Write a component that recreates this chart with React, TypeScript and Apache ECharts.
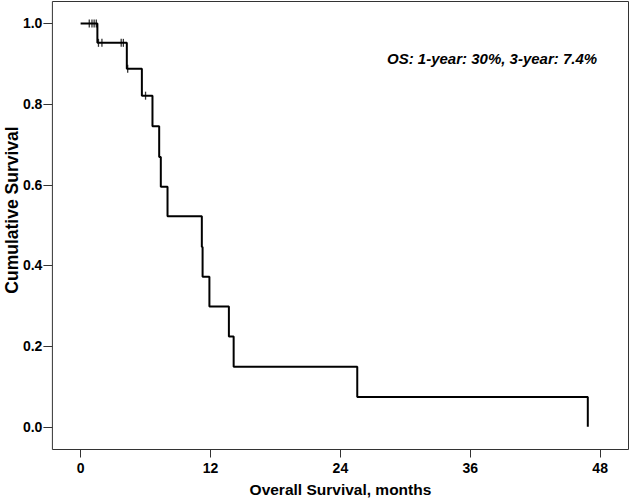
import React, { useEffect, useRef } from "react";
import * as echarts from "echarts";

const eventTimes = [0, 1.55, 4.27, 5.66, 6.64, 7.26, 7.41, 8.03, 11.2, 11.27, 11.9, 13.7, 14.14, 25.56, 46.86];
const survival = [1.0, 0.952, 0.888, 0.821, 0.745, 0.669, 0.595, 0.522, 0.446, 0.372, 0.298, 0.224, 0.149, 0.074, 0.0];
const censorTimes = [0.8, 1.05, 1.25, 1.45, 1.65, 1.97, 3.75, 3.95, 4.35, 6.0];
const censorSurvival = [1.0, 1.0, 1.0, 1.0, 0.952, 0.952, 0.952, 0.952, 0.888, 0.821];
const xTicks = [0, 12, 24, 36, 48];
const yTicks = [0, 0.2, 0.4, 0.6, 0.8, 1.0];
const xTitle = "Overall Survival, months";
const yTitle = "Cumulative Survival";
const annotation = "OS: 1-year: 30%, 3-year: 7.4%";

const FONT = "'Liberation Sans', Arial, sans-serif";

export default function App() {
  const ref = useRef<HTMLDivElement>(null);
  useEffect(() => {
    if (!ref.current) return;
    const chart = echarts.init(ref.current, null, { renderer: "svg" });
    const option: any = {
      animation: false,
      backgroundColor: "#fff",
      grid: {
        left: 52.4,
        right: 1.5,
        top: 1.5,
        bottom: 52.5,
        show: true,
        borderColor: "#333",
        borderWidth: 1,
        containLabel: false,
        outerBoundsMode: "none",
      },
      xAxis: {
        type: "value",
        min: -2.606,
        max: 50.62,
        axisLine: { show: false, onZero: false },
        splitLine: { show: false },
        axisTick: { show: true, length: 8, inside: false, customValues: xTicks, lineStyle: { color: "#333", width: 1 } },
        axisLabel: {
          show: true,
          customValues: xTicks,
          margin: 11,
          color: "#000",
          fontFamily: FONT,
          fontWeight: "bold",
          fontSize: 14,
        },
        name: xTitle,
        nameLocation: "middle",
        nameGap: 32,
        nameTextStyle: { color: "#000", fontFamily: FONT, fontWeight: "bold", fontSize: 15.5 },
      },
      yAxis: {
        type: "value",
        min: -0.0563,
        max: 1.0545,
        axisLine: { show: false, onZero: false },
        splitLine: { show: false },
        axisTick: { show: true, length: 9, inside: false, customValues: yTicks, lineStyle: { color: "#333", width: 1 } },
        axisLabel: {
          show: true,
          customValues: yTicks,
          margin: 10,
          color: "#000",
          fontFamily: FONT,
          fontWeight: "bold",
          fontSize: 14,
          formatter: (v: number) => v.toFixed(1),
        },
      },
      graphic: [
        {
          type: "text",
          x: 12,
          y: 210,
          rotation: Math.PI / 2,
          style: {
            text: yTitle,
            fill: "#000",
            fontFamily: FONT,
            fontWeight: "bold",
            fontSize: 17.5,
            textAlign: "center",
            verticalAlign: "middle",
          },
        },
        {
          type: "text",
          x: 387,
          y: 58.5,
          style: {
            text: annotation,
            fill: "#000",
            fontFamily: FONT,
            fontWeight: "bold",
            fontStyle: "italic",
            fontSize: 15,
            textAlign: "left",
            verticalAlign: "middle",
          },
        },
      ],
      series: [
        {
          type: "line",
          step: "end",
          data: eventTimes.map((t, i) => [t, survival[i]]),
          showSymbol: false,
          lineStyle: { color: "#000", width: 2 },
          silent: true,
        },
        {
          type: "scatter",
          data: censorTimes.map((t, i) => [t, censorSurvival[i]]),
          symbol: "rect",
          symbolSize: [1.3, 8],
          itemStyle: { color: "#000" },
          silent: true,
        },
      ],
    };
    chart.setOption(option);
    return () => chart.dispose();
  }, []);
  return (
    <div
      ref={ref}
      style={{ position: "fixed", left: 0, top: 0, width: 630, height: 502, background: "#fff" }}
    />
  );
}
